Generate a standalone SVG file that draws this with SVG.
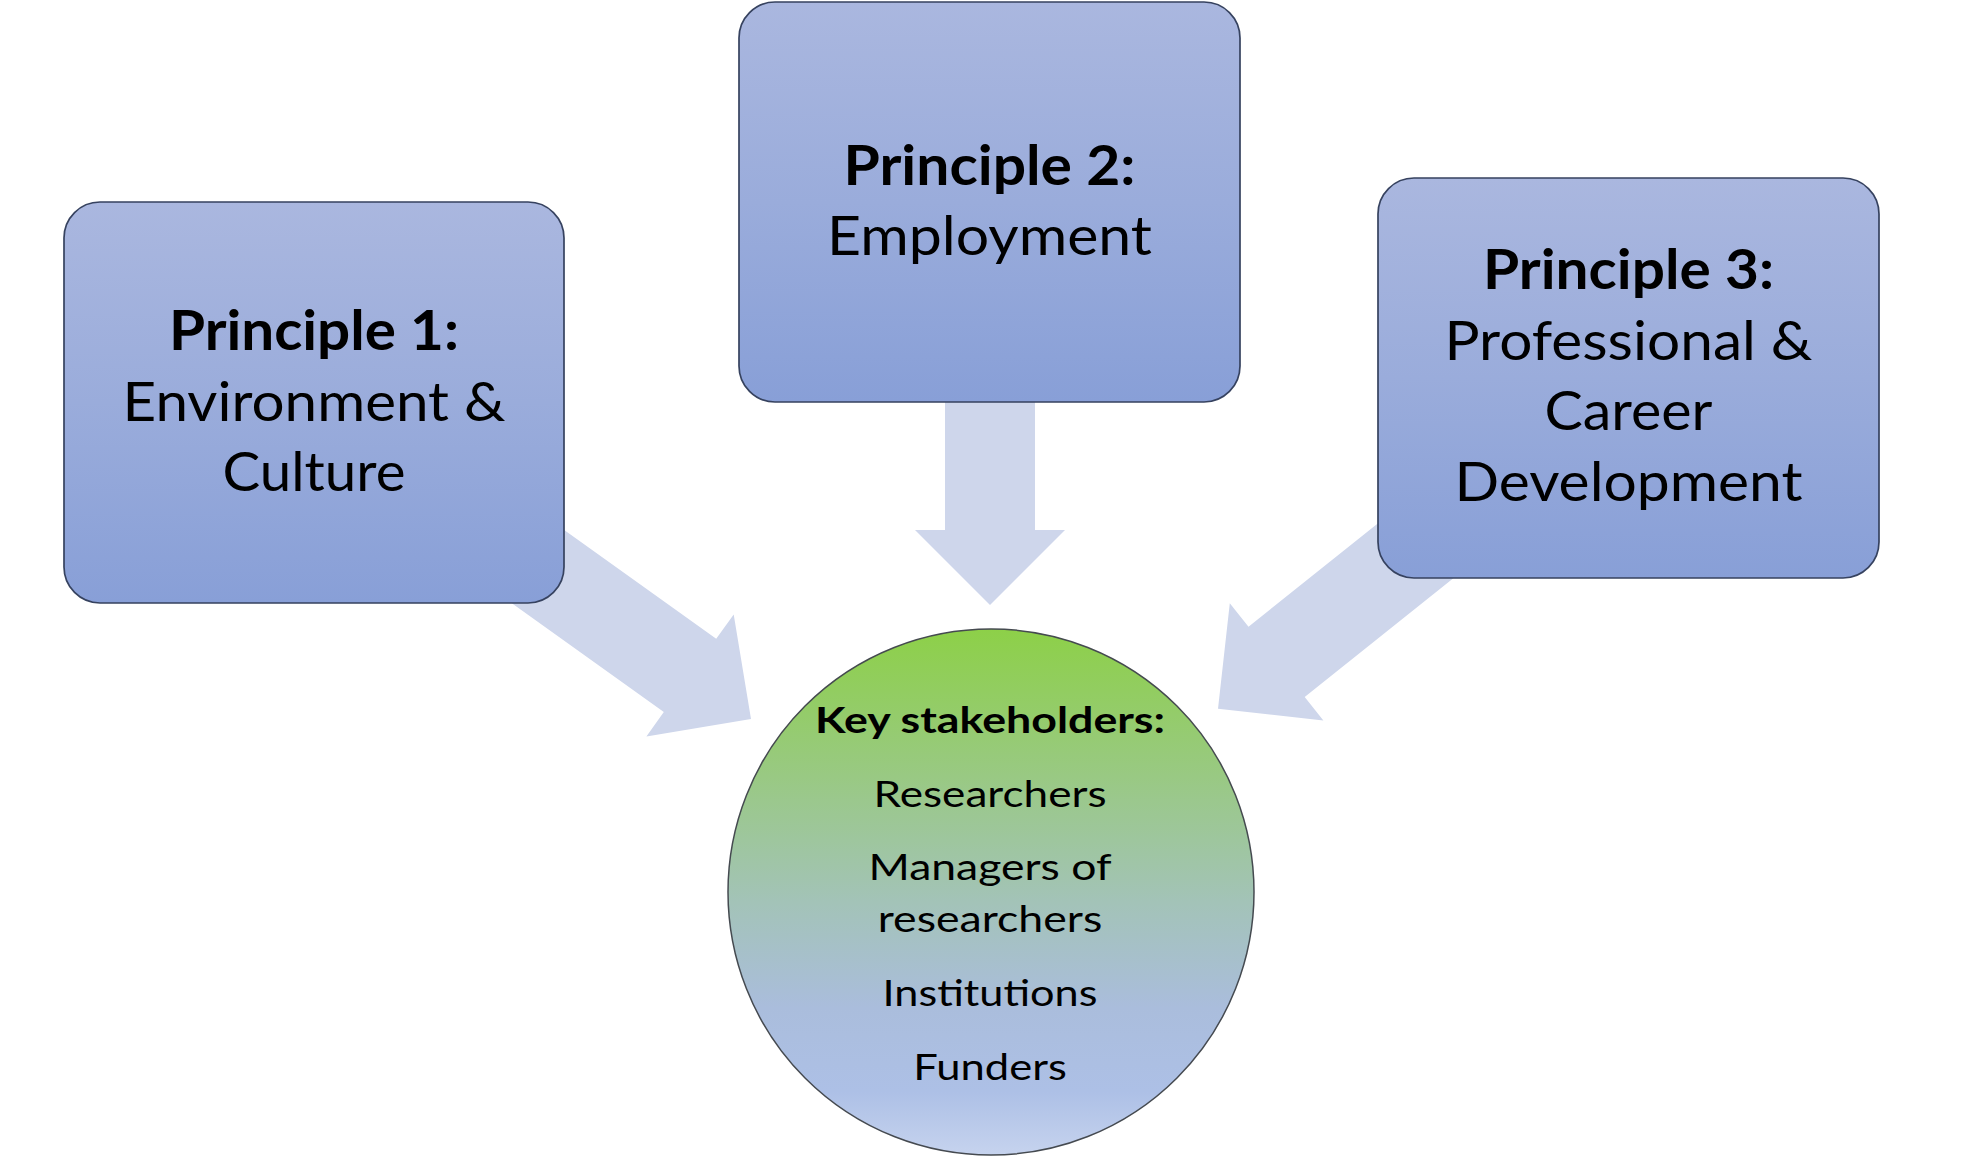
<svg xmlns="http://www.w3.org/2000/svg" width="1980" height="1159" viewBox="0 0 1980 1159">
  <defs>
    <linearGradient id="boxGrad" x1="0" y1="0" x2="0" y2="1">
      <stop offset="0" stop-color="#AAB7DF"/>
      <stop offset="0.5" stop-color="#9AACDB"/>
      <stop offset="1" stop-color="#889FD7"/>
    </linearGradient>
    <linearGradient id="circGrad" x1="0" y1="0" x2="0" y2="1">
      <stop offset="0" stop-color="#8DD048"/>
      <stop offset="0.28" stop-color="#99C983"/>
      <stop offset="0.52" stop-color="#A3C3B8"/>
      <stop offset="0.72" stop-color="#AABDDC"/>
      <stop offset="0.88" stop-color="#ADC0E6"/>
      <stop offset="1" stop-color="#C6D3EE"/>
    </linearGradient>
    <style>
      .box { fill: url(#boxGrad); stroke: #36425F; stroke-width: 1.7; }
      .circ { fill: url(#circGrad); stroke: #454A50; stroke-width: 1.5; }
      .arrow { fill: #CED6EB; stroke: none; }
      .t { font-family: Lato, "Liberation Sans", sans-serif; fill: #000; text-anchor: middle; }
      .big { font-size: 55px; }
      .small { font-size: 37px; }
      .b { font-weight: bold; }
    </style>
  </defs>
  <rect x="0" y="0" width="1980" height="1159" fill="#FFFFFF"/>

  <g id="connectors">
    <polygon class="arrow" points="537.3,510.8 716.2,638.8 733.7,614.4 751,719 646.4,736.4 663.8,712 484.9,584"/>
    <polygon class="arrow" points="945,380 1035,380 1035,530 1065,530 990,605 915,530 945,530"/>
    <polygon class="arrow" points="1476.5,559.7 1304.7,697 1323.4,720.5 1218,708.7 1229.8,603.3 1248.5,626.8 1420.3,489.5"/>
  </g>

  <g id="principle1">
    <rect class="box" x="64" y="202" width="500" height="401" rx="36" ry="36"/>
    <text class="t big b" x="314" y="350" textLength="290" lengthAdjust="spacingAndGlyphs">Principle 1:</text>
    <text class="t big" x="314" y="420.5" textLength="383" lengthAdjust="spacingAndGlyphs">Environment &amp;</text>
    <text class="t big" x="314" y="491" textLength="183" lengthAdjust="spacingAndGlyphs">Culture</text>
  </g>

  <g id="principle2">
    <rect class="box" x="739" y="2" width="501" height="400" rx="36" ry="36"/>
    <text class="t big b" x="989.5" y="184.5" textLength="292" lengthAdjust="spacingAndGlyphs">Principle 2:</text>
    <text class="t big" x="989.5" y="255" textLength="325" lengthAdjust="spacingAndGlyphs">Employment</text>
  </g>

  <g id="principle3">
    <rect class="box" x="1378" y="178" width="501" height="400" rx="36" ry="36"/>
    <text class="t big b" x="1628.5" y="289" textLength="291" lengthAdjust="spacingAndGlyphs">Principle 3:</text>
    <text class="t big" x="1628.5" y="359.5" textLength="368" lengthAdjust="spacingAndGlyphs">Professional &amp;</text>
    <text class="t big" x="1628.5" y="430" textLength="168" lengthAdjust="spacingAndGlyphs">Career</text>
    <text class="t big" x="1628.5" y="501" textLength="348" lengthAdjust="spacingAndGlyphs">Development</text>
  </g>

  <g id="stakeholders">
    <circle class="circ" cx="991" cy="892" r="263"/>
    <text class="t small b" x="990" y="733" textLength="350" lengthAdjust="spacingAndGlyphs">Key stakeholders:</text>
    <text class="t small" x="990" y="806.5" textLength="233" lengthAdjust="spacingAndGlyphs">Researchers</text>
    <text class="t small" x="990" y="879.5" textLength="243" lengthAdjust="spacingAndGlyphs">Managers of</text>
    <text class="t small" x="990" y="932" textLength="224.5" lengthAdjust="spacingAndGlyphs">researchers</text>
    <text class="t small" x="990" y="1005.5" textLength="215" lengthAdjust="spacingAndGlyphs">Institutions</text>
    <text class="t small" x="990" y="1079.5" textLength="153.5" lengthAdjust="spacingAndGlyphs">Funders</text>
  </g>
</svg>
